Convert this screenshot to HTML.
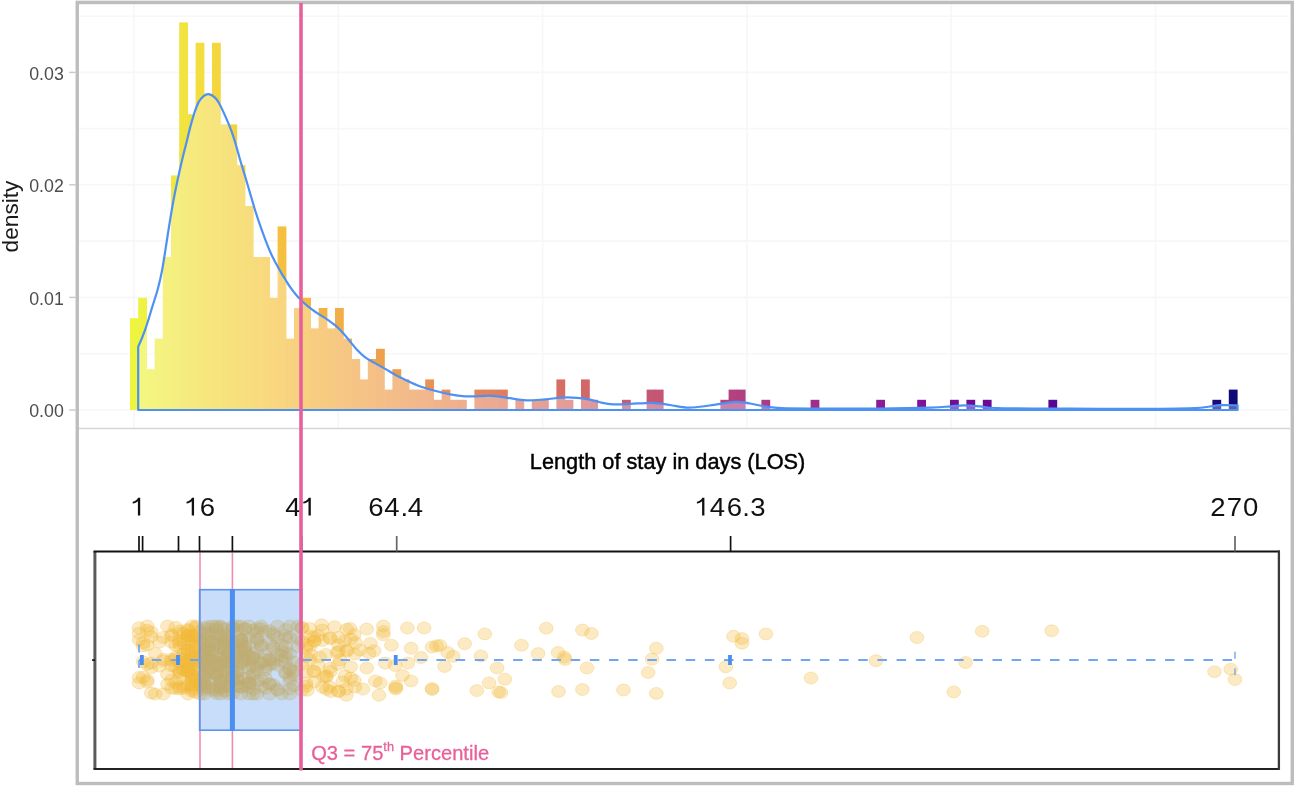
<!DOCTYPE html>
<html><head><meta charset="utf-8"><style>
html,body{margin:0;padding:0;background:#fff;}
svg{display:block;font-family:"Liberation Sans",sans-serif;will-change:transform;}
</style></head><body>
<svg width="1295" height="786" viewBox="0 0 1295 786">
<rect x="0" y="0" width="1295" height="786" fill="#ffffff"/>
<line x1="79" y1="16.2" x2="1289" y2="16.2" stroke="#f7f7f7" stroke-width="1.6"/>
<line x1="79" y1="72.4" x2="1289" y2="72.4" stroke="#f7f7f7" stroke-width="1.6"/>
<line x1="79" y1="128.6" x2="1289" y2="128.6" stroke="#f7f7f7" stroke-width="1.6"/>
<line x1="79" y1="184.8" x2="1289" y2="184.8" stroke="#f7f7f7" stroke-width="1.6"/>
<line x1="79" y1="241.1" x2="1289" y2="241.1" stroke="#f7f7f7" stroke-width="1.6"/>
<line x1="79" y1="297.4" x2="1289" y2="297.4" stroke="#f7f7f7" stroke-width="1.6"/>
<line x1="79" y1="353.7" x2="1289" y2="353.7" stroke="#f7f7f7" stroke-width="1.6"/>
<line x1="79" y1="410.0" x2="1289" y2="410.0" stroke="#f7f7f7" stroke-width="1.6"/>
<line x1="134.0" y1="4" x2="134.0" y2="428" stroke="#f7f7f7" stroke-width="1.6"/>
<line x1="338.3" y1="4" x2="338.3" y2="428" stroke="#f7f7f7" stroke-width="1.6"/>
<line x1="542.6" y1="4" x2="542.6" y2="428" stroke="#f7f7f7" stroke-width="1.6"/>
<line x1="746.9" y1="4" x2="746.9" y2="428" stroke="#f7f7f7" stroke-width="1.6"/>
<line x1="951.2" y1="4" x2="951.2" y2="428" stroke="#f7f7f7" stroke-width="1.6"/>
<line x1="1155.5" y1="4" x2="1155.5" y2="428" stroke="#f7f7f7" stroke-width="1.6"/>
<line x1="79" y1="428.5" x2="1290" y2="428.5" stroke="#d6d6d6" stroke-width="1.3"/>
<rect x="130.00" y="318.20" width="8.80" height="91.80" fill="#edf53e"/>
<rect x="138.20" y="297.80" width="8.80" height="112.20" fill="#edf340"/>
<rect x="146.40" y="369.20" width="8.80" height="40.80" fill="#eef042"/>
<rect x="154.60" y="338.60" width="8.80" height="71.40" fill="#efed42"/>
<rect x="162.80" y="257.00" width="8.80" height="153.00" fill="#f0ea42"/>
<rect x="171.00" y="175.40" width="8.80" height="234.60" fill="#f1e741"/>
<rect x="179.20" y="22.40" width="8.80" height="387.60" fill="#f1e340"/>
<rect x="187.40" y="114.20" width="8.80" height="295.80" fill="#f2e03f"/>
<rect x="195.60" y="42.80" width="8.80" height="367.20" fill="#f3dd3f"/>
<rect x="203.80" y="93.80" width="8.80" height="316.20" fill="#f3da3e"/>
<rect x="212.00" y="42.80" width="8.80" height="367.20" fill="#f4d73e"/>
<rect x="220.20" y="124.40" width="8.80" height="285.60" fill="#f4d53e"/>
<rect x="228.40" y="124.40" width="8.80" height="285.60" fill="#f4d23e"/>
<rect x="236.60" y="165.20" width="8.80" height="244.80" fill="#f4cf3e"/>
<rect x="244.80" y="206.00" width="8.80" height="204.00" fill="#f5cc3e"/>
<rect x="253.00" y="257.00" width="8.80" height="153.00" fill="#f5c93e"/>
<rect x="261.20" y="257.00" width="8.80" height="153.00" fill="#f5c63f"/>
<rect x="269.40" y="297.80" width="8.80" height="112.20" fill="#f5c33f"/>
<rect x="277.60" y="226.40" width="8.80" height="183.60" fill="#f5c040"/>
<rect x="285.80" y="338.60" width="8.80" height="71.40" fill="#f4bd41"/>
<rect x="294.00" y="308.00" width="8.80" height="102.00" fill="#f4bb42"/>
<rect x="302.20" y="297.80" width="8.80" height="112.20" fill="#f4b942"/>
<rect x="310.40" y="328.40" width="8.80" height="81.60" fill="#f4b643"/>
<rect x="318.60" y="308.00" width="8.80" height="102.00" fill="#f3b344"/>
<rect x="326.80" y="328.40" width="8.80" height="81.60" fill="#f3b145"/>
<rect x="335.00" y="308.00" width="8.80" height="102.00" fill="#f2ae46"/>
<rect x="343.20" y="338.60" width="8.80" height="71.40" fill="#f2ab48"/>
<rect x="351.40" y="359.00" width="8.80" height="51.00" fill="#f1a849"/>
<rect x="359.60" y="379.40" width="8.80" height="30.60" fill="#f0a64a"/>
<rect x="367.80" y="359.00" width="8.80" height="51.00" fill="#f0a34b"/>
<rect x="376.00" y="348.80" width="8.80" height="61.20" fill="#efa04c"/>
<rect x="384.20" y="389.60" width="8.80" height="20.40" fill="#ee9e4e"/>
<rect x="392.40" y="369.20" width="8.80" height="40.80" fill="#ee9c4e"/>
<rect x="400.60" y="379.40" width="8.80" height="30.60" fill="#ed9a4f"/>
<rect x="408.80" y="389.60" width="8.80" height="20.40" fill="#ec9751"/>
<rect x="417.00" y="389.60" width="8.80" height="20.40" fill="#eb9552"/>
<rect x="425.20" y="379.40" width="8.80" height="30.60" fill="#ea9253"/>
<rect x="433.40" y="399.80" width="8.80" height="10.20" fill="#e98f54"/>
<rect x="441.60" y="389.60" width="8.80" height="20.40" fill="#e88d55"/>
<rect x="449.80" y="399.80" width="8.80" height="10.20" fill="#e78b57"/>
<rect x="458.00" y="399.80" width="8.80" height="10.20" fill="#e68858"/>
<rect x="474.40" y="389.60" width="8.80" height="20.40" fill="#e4845a"/>
<rect x="482.60" y="389.60" width="8.80" height="20.40" fill="#e3825b"/>
<rect x="490.80" y="389.60" width="8.80" height="20.40" fill="#e1805c"/>
<rect x="499.00" y="389.60" width="8.80" height="20.40" fill="#e07d5d"/>
<rect x="515.40" y="399.80" width="8.80" height="10.20" fill="#dd7960"/>
<rect x="531.80" y="399.80" width="8.80" height="10.20" fill="#da7462"/>
<rect x="540.00" y="399.80" width="8.80" height="10.20" fill="#d97263"/>
<rect x="556.40" y="379.40" width="8.80" height="30.60" fill="#d76e65"/>
<rect x="564.60" y="399.80" width="8.80" height="10.20" fill="#d56c66"/>
<rect x="581.00" y="379.40" width="8.80" height="30.60" fill="#d26769"/>
<rect x="589.20" y="399.80" width="8.80" height="10.20" fill="#d0656a"/>
<rect x="622.00" y="399.80" width="8.80" height="10.20" fill="#ca5c6f"/>
<rect x="646.60" y="389.60" width="8.80" height="20.40" fill="#c65772"/>
<rect x="654.80" y="389.60" width="8.80" height="20.40" fill="#c45573"/>
<rect x="720.40" y="399.80" width="8.80" height="10.20" fill="#b5437e"/>
<rect x="728.60" y="389.60" width="8.80" height="20.40" fill="#b4427e"/>
<rect x="736.80" y="389.60" width="8.80" height="20.40" fill="#b24080"/>
<rect x="761.40" y="399.80" width="8.80" height="10.20" fill="#ac3a84"/>
<rect x="810.60" y="399.80" width="8.80" height="10.20" fill="#a02d8b"/>
<rect x="876.20" y="399.80" width="8.80" height="10.20" fill="#8c1c93"/>
<rect x="917.20" y="399.80" width="8.80" height="10.20" fill="#801296"/>
<rect x="950.00" y="399.80" width="8.80" height="10.20" fill="#750c97"/>
<rect x="966.40" y="399.80" width="8.80" height="10.20" fill="#700a97"/>
<rect x="982.80" y="399.80" width="8.80" height="10.20" fill="#6c0997"/>
<rect x="1048.40" y="399.80" width="8.80" height="10.20" fill="#560894"/>
<rect x="1212.40" y="399.80" width="8.80" height="10.20" fill="#19097b"/>
<rect x="1228.80" y="389.60" width="8.80" height="20.40" fill="#0e0a76"/>
<path d="M138.2,410 L138.2,346.8 C139.37,344.27 142.87,336.27 145.20,329.60 C147.53,322.93 150.10,313.97 152.20,307.20 C154.30,300.43 156.17,295.07 157.80,289.00 C159.43,282.93 160.50,278.80 162.00,270.80 C163.50,262.80 165.48,249.28 166.80,241.00 C168.12,232.72 168.80,227.82 169.90,221.10 C171.00,214.38 172.13,207.48 173.40,200.70 C174.67,193.92 176.05,187.18 177.50,180.40 C178.95,173.62 180.55,166.53 182.10,160.00 C183.65,153.47 185.42,146.77 186.80,141.20 C188.18,135.63 189.13,131.32 190.40,126.60 C191.67,121.88 193.05,116.93 194.40,112.90 C195.75,108.87 196.97,105.20 198.50,102.40 C200.03,99.60 201.90,97.47 203.60,96.10 C205.30,94.73 206.80,93.95 208.70,94.20 C210.60,94.45 213.27,96.10 215.00,97.60 C216.73,99.10 217.75,100.90 219.10,103.20 C220.45,105.50 221.75,108.52 223.10,111.40 C224.45,114.28 225.83,117.28 227.20,120.50 C228.57,123.72 229.92,126.87 231.30,130.70 C232.68,134.53 234.05,138.70 235.50,143.50 C236.95,148.30 238.40,154.03 240.00,159.50 C241.60,164.97 243.40,170.62 245.10,176.30 C246.80,181.98 248.50,187.83 250.20,193.60 C251.90,199.37 253.60,205.47 255.30,210.90 C257.00,216.33 258.75,221.47 260.40,226.20 C262.05,230.93 263.53,234.95 265.20,239.30 C266.87,243.65 268.90,248.82 270.40,252.30 C271.90,255.78 272.93,257.73 274.20,260.20 C275.47,262.67 276.73,264.82 278.00,267.10 C279.27,269.38 280.52,271.75 281.80,273.90 C283.08,276.05 284.42,277.97 285.70,280.00 C286.98,282.03 287.88,283.77 289.50,286.10 C291.12,288.43 293.45,291.63 295.40,294.00 C297.35,296.37 299.07,298.20 301.20,300.30 C303.33,302.40 305.40,304.38 308.20,306.60 C311.00,308.82 314.73,311.38 318.00,313.60 C321.27,315.82 324.77,317.80 327.80,319.90 C330.83,322.00 333.63,323.98 336.20,326.20 C338.77,328.42 340.87,330.63 343.20,333.20 C345.53,335.77 347.87,338.80 350.20,341.60 C352.53,344.40 354.63,347.32 357.20,350.00 C359.77,352.68 362.80,355.60 365.60,357.70 C368.40,359.80 370.73,360.73 374.00,362.60 C377.27,364.47 380.87,366.45 385.20,368.90 C389.53,371.35 394.37,374.45 400.00,377.30 C405.63,380.15 412.85,383.67 419.00,386.00 C425.15,388.33 431.73,389.90 436.90,391.30 C442.07,392.70 445.32,393.57 450.00,394.40 C454.68,395.23 460.00,396.00 465.00,396.30 C470.00,396.60 475.50,396.28 480.00,396.20 C484.50,396.12 487.50,395.53 492.00,395.80 C496.50,396.07 501.20,397.05 507.00,397.80 C512.80,398.55 520.42,400.05 526.80,400.30 C533.18,400.55 538.52,399.78 545.30,399.30 C552.08,398.82 560.30,397.40 567.50,397.40 C574.70,397.40 582.93,398.45 588.50,399.30 C594.07,400.15 596.77,401.67 600.90,402.50 C605.03,403.33 608.45,404.05 613.30,404.30 C618.15,404.55 623.55,404.25 630.00,404.00 C636.45,403.75 645.33,402.63 652.00,402.80 C658.67,402.97 663.82,404.20 670.00,405.00 C676.18,405.80 682.43,407.52 689.10,407.60 C695.77,407.68 702.27,406.45 710.00,405.50 C717.73,404.55 728.83,402.23 735.50,401.90 C742.17,401.57 745.37,402.80 750.00,403.50 C754.63,404.20 758.00,405.32 763.30,406.10 C768.60,406.88 772.35,407.78 781.80,408.20 C791.25,408.62 803.63,408.53 820.00,408.60 C836.37,408.67 861.50,408.77 880.00,408.60 C898.50,408.43 919.33,407.97 931.00,407.60 C942.67,407.23 944.50,406.77 950.00,406.40 C955.50,406.03 959.00,405.40 964.00,405.40 C969.00,405.40 974.67,405.97 980.00,406.40 C985.33,406.83 984.33,407.63 996.00,408.00 C1007.67,408.37 1032.67,408.47 1050.00,408.60 C1067.33,408.73 1081.67,408.77 1100.00,408.80 C1118.33,408.83 1144.17,408.90 1160.00,408.80 C1175.83,408.70 1186.67,408.58 1195.00,408.20 C1203.33,407.82 1205.83,407.00 1210.00,406.50 C1214.17,406.00 1215.40,405.40 1220.00,405.20 C1224.60,405.00 1234.67,405.28 1237.60,405.30 L1237.6,410 Z" fill="#ffffff" fill-opacity="0.33" stroke="#4d92f2" stroke-width="2.2" stroke-linejoin="round"/>
<line x1="69.2" y1="72.4" x2="75.5" y2="72.4" stroke="#c8c8c8" stroke-width="1.4"/>
<text x="63.8" y="79.7" font-size="17.8" fill="#4d4d4d" text-anchor="end">0.03</text>
<line x1="69.2" y1="184.8" x2="75.5" y2="184.8" stroke="#c8c8c8" stroke-width="1.4"/>
<text x="63.8" y="192.1" font-size="17.8" fill="#4d4d4d" text-anchor="end">0.02</text>
<line x1="69.2" y1="297.4" x2="75.5" y2="297.4" stroke="#c8c8c8" stroke-width="1.4"/>
<text x="63.8" y="304.7" font-size="17.8" fill="#4d4d4d" text-anchor="end">0.01</text>
<line x1="69.2" y1="410.0" x2="75.5" y2="410.0" stroke="#c8c8c8" stroke-width="1.4"/>
<text x="63.8" y="417.3" font-size="17.8" fill="#4d4d4d" text-anchor="end">0.00</text>
<text transform="translate(18.2,216.5) rotate(-90)" font-size="22.7" fill="#1a1a1a" text-anchor="middle">density</text>
<rect x="77.25" y="2.5" width="1215" height="781" fill="none" stroke="#bdbdbd" stroke-width="3.4"/>
<line x1="75.6" y1="0.4" x2="1294" y2="0.4" stroke="#e6e6e6" stroke-width="0.8"/>
<text x="529.8" y="469.0" font-size="22.6" fill="#000" stroke="#000" stroke-width="0.45" textLength="275.5" lengthAdjust="spacingAndGlyphs">Length of stay in days (LOS)</text>
<g fill="#f3b838" fill-opacity="0.3" stroke="#f3b838" stroke-opacity="0.28" stroke-width="1">
<ellipse cx="139.0" cy="633.3" rx="6.9" ry="6.0"/>
<ellipse cx="143.1" cy="661.8" rx="6.9" ry="6.0"/>
<ellipse cx="139.0" cy="682.9" rx="6.9" ry="6.0"/>
<ellipse cx="143.1" cy="646.0" rx="6.9" ry="6.0"/>
<ellipse cx="139.0" cy="627.8" rx="6.9" ry="6.0"/>
<ellipse cx="143.1" cy="677.2" rx="6.9" ry="6.0"/>
<ellipse cx="139.0" cy="640.1" rx="6.9" ry="6.0"/>
<ellipse cx="143.1" cy="642.6" rx="6.9" ry="6.0"/>
<ellipse cx="139.0" cy="677.4" rx="6.9" ry="6.0"/>
<ellipse cx="147.2" cy="645.0" rx="6.9" ry="6.0"/>
<ellipse cx="151.2" cy="632.0" rx="6.9" ry="6.0"/>
<ellipse cx="147.2" cy="680.0" rx="6.9" ry="6.0"/>
<ellipse cx="151.2" cy="667.8" rx="6.9" ry="6.0"/>
<ellipse cx="147.2" cy="664.5" rx="6.9" ry="6.0"/>
<ellipse cx="151.2" cy="692.9" rx="6.9" ry="6.0"/>
<ellipse cx="147.2" cy="682.0" rx="6.9" ry="6.0"/>
<ellipse cx="151.2" cy="663.0" rx="6.9" ry="6.0"/>
<ellipse cx="147.2" cy="630.3" rx="6.9" ry="6.0"/>
<ellipse cx="151.2" cy="636.8" rx="6.9" ry="6.0"/>
<ellipse cx="147.2" cy="626.0" rx="6.9" ry="6.0"/>
<ellipse cx="155.3" cy="653.4" rx="6.9" ry="6.0"/>
<ellipse cx="159.4" cy="666.2" rx="6.9" ry="6.0"/>
<ellipse cx="155.3" cy="694.0" rx="6.9" ry="6.0"/>
<ellipse cx="159.4" cy="642.1" rx="6.9" ry="6.0"/>
<ellipse cx="163.4" cy="661.0" rx="6.9" ry="6.0"/>
<ellipse cx="167.5" cy="684.3" rx="6.9" ry="6.0"/>
<ellipse cx="163.4" cy="659.2" rx="6.9" ry="6.0"/>
<ellipse cx="167.5" cy="626.0" rx="6.9" ry="6.0"/>
<ellipse cx="163.4" cy="694.0" rx="6.9" ry="6.0"/>
<ellipse cx="167.5" cy="674.3" rx="6.9" ry="6.0"/>
<ellipse cx="163.4" cy="637.4" rx="6.9" ry="6.0"/>
<ellipse cx="171.6" cy="661.2" rx="6.9" ry="6.0"/>
<ellipse cx="175.7" cy="657.2" rx="6.9" ry="6.0"/>
<ellipse cx="171.6" cy="642.2" rx="6.9" ry="6.0"/>
<ellipse cx="175.7" cy="645.4" rx="6.9" ry="6.0"/>
<ellipse cx="171.6" cy="665.7" rx="6.9" ry="6.0"/>
<ellipse cx="175.7" cy="682.3" rx="6.9" ry="6.0"/>
<ellipse cx="171.6" cy="688.3" rx="6.9" ry="6.0"/>
<ellipse cx="175.7" cy="688.6" rx="6.9" ry="6.0"/>
<ellipse cx="171.6" cy="636.1" rx="6.9" ry="6.0"/>
<ellipse cx="175.7" cy="627.3" rx="6.9" ry="6.0"/>
<ellipse cx="171.6" cy="659.4" rx="6.9" ry="6.0"/>
<ellipse cx="175.7" cy="667.0" rx="6.9" ry="6.0"/>
<ellipse cx="171.6" cy="634.6" rx="6.9" ry="6.0"/>
<ellipse cx="175.7" cy="658.9" rx="6.9" ry="6.0"/>
<ellipse cx="171.6" cy="680.0" rx="6.9" ry="6.0"/>
<ellipse cx="179.7" cy="633.2" rx="6.9" ry="6.0"/>
<ellipse cx="183.8" cy="653.3" rx="6.9" ry="6.0"/>
<ellipse cx="179.7" cy="640.8" rx="6.9" ry="6.0"/>
<ellipse cx="183.8" cy="653.9" rx="6.9" ry="6.0"/>
<ellipse cx="179.7" cy="672.8" rx="6.9" ry="6.0"/>
<ellipse cx="183.8" cy="685.4" rx="6.9" ry="6.0"/>
<ellipse cx="179.7" cy="661.9" rx="6.9" ry="6.0"/>
<ellipse cx="183.8" cy="669.0" rx="6.9" ry="6.0"/>
<ellipse cx="179.7" cy="669.8" rx="6.9" ry="6.0"/>
<ellipse cx="183.8" cy="659.2" rx="6.9" ry="6.0"/>
<ellipse cx="179.7" cy="630.8" rx="6.9" ry="6.0"/>
<ellipse cx="183.8" cy="688.3" rx="6.9" ry="6.0"/>
<ellipse cx="179.7" cy="687.0" rx="6.9" ry="6.0"/>
<ellipse cx="183.8" cy="670.2" rx="6.9" ry="6.0"/>
<ellipse cx="179.7" cy="678.6" rx="6.9" ry="6.0"/>
<ellipse cx="183.8" cy="643.7" rx="6.9" ry="6.0"/>
<ellipse cx="179.7" cy="643.6" rx="6.9" ry="6.0"/>
<ellipse cx="183.8" cy="659.4" rx="6.9" ry="6.0"/>
<ellipse cx="179.7" cy="647.1" rx="6.9" ry="6.0"/>
<ellipse cx="183.8" cy="633.3" rx="6.9" ry="6.0"/>
<ellipse cx="179.7" cy="671.3" rx="6.9" ry="6.0"/>
<ellipse cx="183.8" cy="640.7" rx="6.9" ry="6.0"/>
<ellipse cx="179.7" cy="689.0" rx="6.9" ry="6.0"/>
<ellipse cx="187.9" cy="661.7" rx="6.9" ry="6.0"/>
<ellipse cx="192.0" cy="678.7" rx="6.9" ry="6.0"/>
<ellipse cx="187.9" cy="650.0" rx="6.9" ry="6.0"/>
<ellipse cx="192.0" cy="655.4" rx="6.9" ry="6.0"/>
<ellipse cx="187.9" cy="639.9" rx="6.9" ry="6.0"/>
<ellipse cx="192.0" cy="636.9" rx="6.9" ry="6.0"/>
<ellipse cx="187.9" cy="671.6" rx="6.9" ry="6.0"/>
<ellipse cx="192.0" cy="675.1" rx="6.9" ry="6.0"/>
<ellipse cx="187.9" cy="685.8" rx="6.9" ry="6.0"/>
<ellipse cx="192.0" cy="651.5" rx="6.9" ry="6.0"/>
<ellipse cx="187.9" cy="653.9" rx="6.9" ry="6.0"/>
<ellipse cx="192.0" cy="680.3" rx="6.9" ry="6.0"/>
<ellipse cx="187.9" cy="660.6" rx="6.9" ry="6.0"/>
<ellipse cx="192.0" cy="642.0" rx="6.9" ry="6.0"/>
<ellipse cx="187.9" cy="669.4" rx="6.9" ry="6.0"/>
<ellipse cx="192.0" cy="662.1" rx="6.9" ry="6.0"/>
<ellipse cx="187.9" cy="635.9" rx="6.9" ry="6.0"/>
<ellipse cx="192.0" cy="626.0" rx="6.9" ry="6.0"/>
<ellipse cx="187.9" cy="667.3" rx="6.9" ry="6.0"/>
<ellipse cx="192.0" cy="674.1" rx="6.9" ry="6.0"/>
<ellipse cx="187.9" cy="663.4" rx="6.9" ry="6.0"/>
<ellipse cx="192.0" cy="644.9" rx="6.9" ry="6.0"/>
<ellipse cx="187.9" cy="635.2" rx="6.9" ry="6.0"/>
<ellipse cx="192.0" cy="634.8" rx="6.9" ry="6.0"/>
<ellipse cx="187.9" cy="650.0" rx="6.9" ry="6.0"/>
<ellipse cx="192.0" cy="675.5" rx="6.9" ry="6.0"/>
<ellipse cx="187.9" cy="630.5" rx="6.9" ry="6.0"/>
<ellipse cx="192.0" cy="685.1" rx="6.9" ry="6.0"/>
<ellipse cx="187.9" cy="629.5" rx="6.9" ry="6.0"/>
<ellipse cx="192.0" cy="650.4" rx="6.9" ry="6.0"/>
<ellipse cx="187.9" cy="664.5" rx="6.9" ry="6.0"/>
<ellipse cx="192.0" cy="678.4" rx="6.9" ry="6.0"/>
<ellipse cx="187.9" cy="635.8" rx="6.9" ry="6.0"/>
<ellipse cx="192.0" cy="687.0" rx="6.9" ry="6.0"/>
<ellipse cx="187.9" cy="694.0" rx="6.9" ry="6.0"/>
<ellipse cx="192.0" cy="689.2" rx="6.9" ry="6.0"/>
<ellipse cx="187.9" cy="671.6" rx="6.9" ry="6.0"/>
<ellipse cx="192.0" cy="691.2" rx="6.9" ry="6.0"/>
<ellipse cx="196.0" cy="680.3" rx="6.9" ry="6.0"/>
<ellipse cx="200.1" cy="683.8" rx="6.9" ry="6.0"/>
<ellipse cx="196.0" cy="638.9" rx="6.9" ry="6.0"/>
<ellipse cx="200.1" cy="683.2" rx="6.9" ry="6.0"/>
<ellipse cx="196.0" cy="661.7" rx="6.9" ry="6.0"/>
<ellipse cx="200.1" cy="653.3" rx="6.9" ry="6.0"/>
<ellipse cx="196.0" cy="646.7" rx="6.9" ry="6.0"/>
<ellipse cx="200.1" cy="694.0" rx="6.9" ry="6.0"/>
<ellipse cx="196.0" cy="659.7" rx="6.9" ry="6.0"/>
<ellipse cx="200.1" cy="666.1" rx="6.9" ry="6.0"/>
<ellipse cx="196.0" cy="638.0" rx="6.9" ry="6.0"/>
<ellipse cx="200.1" cy="661.8" rx="6.9" ry="6.0"/>
<ellipse cx="196.0" cy="692.6" rx="6.9" ry="6.0"/>
<ellipse cx="200.1" cy="631.1" rx="6.9" ry="6.0"/>
<ellipse cx="196.0" cy="626.0" rx="6.9" ry="6.0"/>
<ellipse cx="200.1" cy="640.3" rx="6.9" ry="6.0"/>
<ellipse cx="196.0" cy="635.7" rx="6.9" ry="6.0"/>
<ellipse cx="200.1" cy="672.3" rx="6.9" ry="6.0"/>
<ellipse cx="196.0" cy="670.8" rx="6.9" ry="6.0"/>
<ellipse cx="200.1" cy="663.1" rx="6.9" ry="6.0"/>
<ellipse cx="196.0" cy="657.5" rx="6.9" ry="6.0"/>
<ellipse cx="200.1" cy="673.2" rx="6.9" ry="6.0"/>
<ellipse cx="196.0" cy="677.4" rx="6.9" ry="6.0"/>
<ellipse cx="200.1" cy="641.7" rx="6.9" ry="6.0"/>
<ellipse cx="196.0" cy="684.7" rx="6.9" ry="6.0"/>
<ellipse cx="200.1" cy="657.8" rx="6.9" ry="6.0"/>
<ellipse cx="196.0" cy="650.3" rx="6.9" ry="6.0"/>
<ellipse cx="200.1" cy="687.2" rx="6.9" ry="6.0"/>
<ellipse cx="196.0" cy="627.4" rx="6.9" ry="6.0"/>
<ellipse cx="204.2" cy="660.1" rx="6.9" ry="6.0"/>
<ellipse cx="208.3" cy="671.3" rx="6.9" ry="6.0"/>
<ellipse cx="204.2" cy="633.5" rx="6.9" ry="6.0"/>
<ellipse cx="208.3" cy="672.7" rx="6.9" ry="6.0"/>
<ellipse cx="204.2" cy="675.5" rx="6.9" ry="6.0"/>
<ellipse cx="208.3" cy="632.8" rx="6.9" ry="6.0"/>
<ellipse cx="204.2" cy="681.6" rx="6.9" ry="6.0"/>
<ellipse cx="208.3" cy="629.0" rx="6.9" ry="6.0"/>
<ellipse cx="204.2" cy="682.7" rx="6.9" ry="6.0"/>
<ellipse cx="208.3" cy="663.3" rx="6.9" ry="6.0"/>
<ellipse cx="204.2" cy="686.9" rx="6.9" ry="6.0"/>
<ellipse cx="208.3" cy="687.7" rx="6.9" ry="6.0"/>
<ellipse cx="204.2" cy="627.7" rx="6.9" ry="6.0"/>
<ellipse cx="208.3" cy="668.1" rx="6.9" ry="6.0"/>
<ellipse cx="204.2" cy="651.7" rx="6.9" ry="6.0"/>
<ellipse cx="208.3" cy="667.7" rx="6.9" ry="6.0"/>
<ellipse cx="204.2" cy="650.1" rx="6.9" ry="6.0"/>
<ellipse cx="208.3" cy="646.4" rx="6.9" ry="6.0"/>
<ellipse cx="204.2" cy="689.1" rx="6.9" ry="6.0"/>
<ellipse cx="208.3" cy="635.3" rx="6.9" ry="6.0"/>
<ellipse cx="204.2" cy="685.1" rx="6.9" ry="6.0"/>
<ellipse cx="208.3" cy="657.4" rx="6.9" ry="6.0"/>
<ellipse cx="204.2" cy="683.7" rx="6.9" ry="6.0"/>
<ellipse cx="208.3" cy="648.2" rx="6.9" ry="6.0"/>
<ellipse cx="204.2" cy="661.0" rx="6.9" ry="6.0"/>
<ellipse cx="208.3" cy="670.4" rx="6.9" ry="6.0"/>
<ellipse cx="204.2" cy="640.3" rx="6.9" ry="6.0"/>
<ellipse cx="208.3" cy="660.0" rx="6.9" ry="6.0"/>
<ellipse cx="204.2" cy="647.2" rx="6.9" ry="6.0"/>
<ellipse cx="208.3" cy="641.5" rx="6.9" ry="6.0"/>
<ellipse cx="204.2" cy="694.0" rx="6.9" ry="6.0"/>
<ellipse cx="208.3" cy="626.6" rx="6.9" ry="6.0"/>
<ellipse cx="204.2" cy="651.1" rx="6.9" ry="6.0"/>
<ellipse cx="208.3" cy="649.0" rx="6.9" ry="6.0"/>
<ellipse cx="204.2" cy="677.1" rx="6.9" ry="6.0"/>
<ellipse cx="208.3" cy="640.7" rx="6.9" ry="6.0"/>
<ellipse cx="212.3" cy="660.6" rx="6.9" ry="6.0"/>
<ellipse cx="216.4" cy="690.5" rx="6.9" ry="6.0"/>
<ellipse cx="212.3" cy="626.0" rx="6.9" ry="6.0"/>
<ellipse cx="216.4" cy="638.5" rx="6.9" ry="6.0"/>
<ellipse cx="212.3" cy="666.1" rx="6.9" ry="6.0"/>
<ellipse cx="216.4" cy="675.5" rx="6.9" ry="6.0"/>
<ellipse cx="212.3" cy="662.9" rx="6.9" ry="6.0"/>
<ellipse cx="216.4" cy="654.5" rx="6.9" ry="6.0"/>
<ellipse cx="212.3" cy="649.1" rx="6.9" ry="6.0"/>
<ellipse cx="216.4" cy="673.7" rx="6.9" ry="6.0"/>
<ellipse cx="212.3" cy="690.6" rx="6.9" ry="6.0"/>
<ellipse cx="216.4" cy="662.5" rx="6.9" ry="6.0"/>
<ellipse cx="212.3" cy="688.3" rx="6.9" ry="6.0"/>
<ellipse cx="216.4" cy="626.0" rx="6.9" ry="6.0"/>
<ellipse cx="212.3" cy="679.9" rx="6.9" ry="6.0"/>
<ellipse cx="216.4" cy="686.7" rx="6.9" ry="6.0"/>
<ellipse cx="212.3" cy="660.3" rx="6.9" ry="6.0"/>
<ellipse cx="216.4" cy="666.8" rx="6.9" ry="6.0"/>
<ellipse cx="212.3" cy="641.4" rx="6.9" ry="6.0"/>
<ellipse cx="216.4" cy="674.7" rx="6.9" ry="6.0"/>
<ellipse cx="212.3" cy="654.8" rx="6.9" ry="6.0"/>
<ellipse cx="216.4" cy="673.8" rx="6.9" ry="6.0"/>
<ellipse cx="212.3" cy="633.8" rx="6.9" ry="6.0"/>
<ellipse cx="216.4" cy="630.6" rx="6.9" ry="6.0"/>
<ellipse cx="212.3" cy="650.5" rx="6.9" ry="6.0"/>
<ellipse cx="216.4" cy="693.5" rx="6.9" ry="6.0"/>
<ellipse cx="212.3" cy="642.0" rx="6.9" ry="6.0"/>
<ellipse cx="216.4" cy="627.9" rx="6.9" ry="6.0"/>
<ellipse cx="212.3" cy="651.7" rx="6.9" ry="6.0"/>
<ellipse cx="216.4" cy="644.1" rx="6.9" ry="6.0"/>
<ellipse cx="212.3" cy="672.5" rx="6.9" ry="6.0"/>
<ellipse cx="220.5" cy="685.7" rx="6.9" ry="6.0"/>
<ellipse cx="224.6" cy="650.0" rx="6.9" ry="6.0"/>
<ellipse cx="220.5" cy="642.0" rx="6.9" ry="6.0"/>
<ellipse cx="224.6" cy="640.4" rx="6.9" ry="6.0"/>
<ellipse cx="220.5" cy="663.0" rx="6.9" ry="6.0"/>
<ellipse cx="224.6" cy="670.4" rx="6.9" ry="6.0"/>
<ellipse cx="220.5" cy="658.9" rx="6.9" ry="6.0"/>
<ellipse cx="224.6" cy="661.1" rx="6.9" ry="6.0"/>
<ellipse cx="220.5" cy="647.7" rx="6.9" ry="6.0"/>
<ellipse cx="224.6" cy="671.9" rx="6.9" ry="6.0"/>
<ellipse cx="220.5" cy="682.9" rx="6.9" ry="6.0"/>
<ellipse cx="224.6" cy="669.6" rx="6.9" ry="6.0"/>
<ellipse cx="220.5" cy="665.9" rx="6.9" ry="6.0"/>
<ellipse cx="224.6" cy="676.4" rx="6.9" ry="6.0"/>
<ellipse cx="220.5" cy="688.4" rx="6.9" ry="6.0"/>
<ellipse cx="224.6" cy="683.4" rx="6.9" ry="6.0"/>
<ellipse cx="220.5" cy="687.8" rx="6.9" ry="6.0"/>
<ellipse cx="224.6" cy="690.9" rx="6.9" ry="6.0"/>
<ellipse cx="220.5" cy="672.1" rx="6.9" ry="6.0"/>
<ellipse cx="224.6" cy="649.2" rx="6.9" ry="6.0"/>
<ellipse cx="220.5" cy="694.0" rx="6.9" ry="6.0"/>
<ellipse cx="224.6" cy="647.6" rx="6.9" ry="6.0"/>
<ellipse cx="220.5" cy="626.0" rx="6.9" ry="6.0"/>
<ellipse cx="224.6" cy="657.1" rx="6.9" ry="6.0"/>
<ellipse cx="220.5" cy="636.3" rx="6.9" ry="6.0"/>
<ellipse cx="224.6" cy="644.6" rx="6.9" ry="6.0"/>
<ellipse cx="220.5" cy="679.9" rx="6.9" ry="6.0"/>
<ellipse cx="224.6" cy="641.1" rx="6.9" ry="6.0"/>
<ellipse cx="220.5" cy="680.8" rx="6.9" ry="6.0"/>
<ellipse cx="224.6" cy="662.3" rx="6.9" ry="6.0"/>
<ellipse cx="220.5" cy="627.4" rx="6.9" ry="6.0"/>
<ellipse cx="224.6" cy="658.4" rx="6.9" ry="6.0"/>
<ellipse cx="220.5" cy="635.5" rx="6.9" ry="6.0"/>
<ellipse cx="224.6" cy="628.9" rx="6.9" ry="6.0"/>
<ellipse cx="220.5" cy="662.6" rx="6.9" ry="6.0"/>
<ellipse cx="224.6" cy="635.2" rx="6.9" ry="6.0"/>
<ellipse cx="228.6" cy="685.5" rx="6.9" ry="6.0"/>
<ellipse cx="232.7" cy="646.9" rx="6.9" ry="6.0"/>
<ellipse cx="228.6" cy="652.4" rx="6.9" ry="6.0"/>
<ellipse cx="232.7" cy="693.4" rx="6.9" ry="6.0"/>
<ellipse cx="228.6" cy="638.3" rx="6.9" ry="6.0"/>
<ellipse cx="232.7" cy="671.8" rx="6.9" ry="6.0"/>
<ellipse cx="228.6" cy="667.5" rx="6.9" ry="6.0"/>
<ellipse cx="232.7" cy="661.7" rx="6.9" ry="6.0"/>
<ellipse cx="228.6" cy="660.0" rx="6.9" ry="6.0"/>
<ellipse cx="232.7" cy="628.0" rx="6.9" ry="6.0"/>
<ellipse cx="228.6" cy="694.0" rx="6.9" ry="6.0"/>
<ellipse cx="232.7" cy="679.2" rx="6.9" ry="6.0"/>
<ellipse cx="228.6" cy="633.6" rx="6.9" ry="6.0"/>
<ellipse cx="232.7" cy="677.2" rx="6.9" ry="6.0"/>
<ellipse cx="228.6" cy="637.3" rx="6.9" ry="6.0"/>
<ellipse cx="232.7" cy="667.0" rx="6.9" ry="6.0"/>
<ellipse cx="228.6" cy="654.1" rx="6.9" ry="6.0"/>
<ellipse cx="232.7" cy="656.1" rx="6.9" ry="6.0"/>
<ellipse cx="228.6" cy="678.2" rx="6.9" ry="6.0"/>
<ellipse cx="232.7" cy="626.0" rx="6.9" ry="6.0"/>
<ellipse cx="228.6" cy="686.7" rx="6.9" ry="6.0"/>
<ellipse cx="232.7" cy="643.2" rx="6.9" ry="6.0"/>
<ellipse cx="228.6" cy="686.2" rx="6.9" ry="6.0"/>
<ellipse cx="232.7" cy="641.4" rx="6.9" ry="6.0"/>
<ellipse cx="228.6" cy="661.3" rx="6.9" ry="6.0"/>
<ellipse cx="232.7" cy="629.0" rx="6.9" ry="6.0"/>
<ellipse cx="228.6" cy="651.0" rx="6.9" ry="6.0"/>
<ellipse cx="232.7" cy="680.7" rx="6.9" ry="6.0"/>
<ellipse cx="236.8" cy="680.2" rx="6.9" ry="6.0"/>
<ellipse cx="240.9" cy="657.0" rx="6.9" ry="6.0"/>
<ellipse cx="236.8" cy="658.1" rx="6.9" ry="6.0"/>
<ellipse cx="240.9" cy="638.4" rx="6.9" ry="6.0"/>
<ellipse cx="236.8" cy="652.4" rx="6.9" ry="6.0"/>
<ellipse cx="240.9" cy="663.9" rx="6.9" ry="6.0"/>
<ellipse cx="236.8" cy="661.2" rx="6.9" ry="6.0"/>
<ellipse cx="240.9" cy="648.8" rx="6.9" ry="6.0"/>
<ellipse cx="236.8" cy="671.5" rx="6.9" ry="6.0"/>
<ellipse cx="240.9" cy="650.0" rx="6.9" ry="6.0"/>
<ellipse cx="236.8" cy="670.8" rx="6.9" ry="6.0"/>
<ellipse cx="240.9" cy="644.3" rx="6.9" ry="6.0"/>
<ellipse cx="236.8" cy="685.3" rx="6.9" ry="6.0"/>
<ellipse cx="240.9" cy="640.8" rx="6.9" ry="6.0"/>
<ellipse cx="236.8" cy="651.1" rx="6.9" ry="6.0"/>
<ellipse cx="240.9" cy="640.3" rx="6.9" ry="6.0"/>
<ellipse cx="236.8" cy="626.0" rx="6.9" ry="6.0"/>
<ellipse cx="240.9" cy="687.1" rx="6.9" ry="6.0"/>
<ellipse cx="236.8" cy="630.0" rx="6.9" ry="6.0"/>
<ellipse cx="240.9" cy="639.8" rx="6.9" ry="6.0"/>
<ellipse cx="236.8" cy="677.1" rx="6.9" ry="6.0"/>
<ellipse cx="240.9" cy="687.4" rx="6.9" ry="6.0"/>
<ellipse cx="236.8" cy="679.2" rx="6.9" ry="6.0"/>
<ellipse cx="240.9" cy="626.0" rx="6.9" ry="6.0"/>
<ellipse cx="236.8" cy="672.4" rx="6.9" ry="6.0"/>
<ellipse cx="240.9" cy="694.0" rx="6.9" ry="6.0"/>
<ellipse cx="236.8" cy="686.7" rx="6.9" ry="6.0"/>
<ellipse cx="240.9" cy="662.5" rx="6.9" ry="6.0"/>
<ellipse cx="244.9" cy="661.3" rx="6.9" ry="6.0"/>
<ellipse cx="249.0" cy="660.1" rx="6.9" ry="6.0"/>
<ellipse cx="244.9" cy="646.3" rx="6.9" ry="6.0"/>
<ellipse cx="249.0" cy="683.3" rx="6.9" ry="6.0"/>
<ellipse cx="244.9" cy="628.3" rx="6.9" ry="6.0"/>
<ellipse cx="249.0" cy="626.0" rx="6.9" ry="6.0"/>
<ellipse cx="244.9" cy="678.4" rx="6.9" ry="6.0"/>
<ellipse cx="249.0" cy="655.9" rx="6.9" ry="6.0"/>
<ellipse cx="244.9" cy="637.2" rx="6.9" ry="6.0"/>
<ellipse cx="249.0" cy="682.4" rx="6.9" ry="6.0"/>
<ellipse cx="244.9" cy="685.6" rx="6.9" ry="6.0"/>
<ellipse cx="249.0" cy="687.3" rx="6.9" ry="6.0"/>
<ellipse cx="244.9" cy="659.9" rx="6.9" ry="6.0"/>
<ellipse cx="249.0" cy="665.6" rx="6.9" ry="6.0"/>
<ellipse cx="244.9" cy="647.2" rx="6.9" ry="6.0"/>
<ellipse cx="249.0" cy="677.0" rx="6.9" ry="6.0"/>
<ellipse cx="244.9" cy="651.7" rx="6.9" ry="6.0"/>
<ellipse cx="249.0" cy="683.1" rx="6.9" ry="6.0"/>
<ellipse cx="244.9" cy="649.5" rx="6.9" ry="6.0"/>
<ellipse cx="249.0" cy="638.0" rx="6.9" ry="6.0"/>
<ellipse cx="244.9" cy="649.0" rx="6.9" ry="6.0"/>
<ellipse cx="249.0" cy="694.0" rx="6.9" ry="6.0"/>
<ellipse cx="244.9" cy="629.3" rx="6.9" ry="6.0"/>
<ellipse cx="249.0" cy="668.5" rx="6.9" ry="6.0"/>
<ellipse cx="253.1" cy="658.4" rx="6.9" ry="6.0"/>
<ellipse cx="257.1" cy="639.3" rx="6.9" ry="6.0"/>
<ellipse cx="253.1" cy="665.5" rx="6.9" ry="6.0"/>
<ellipse cx="257.1" cy="669.2" rx="6.9" ry="6.0"/>
<ellipse cx="253.1" cy="653.7" rx="6.9" ry="6.0"/>
<ellipse cx="257.1" cy="666.9" rx="6.9" ry="6.0"/>
<ellipse cx="253.1" cy="673.9" rx="6.9" ry="6.0"/>
<ellipse cx="257.1" cy="651.1" rx="6.9" ry="6.0"/>
<ellipse cx="253.1" cy="657.4" rx="6.9" ry="6.0"/>
<ellipse cx="257.1" cy="638.8" rx="6.9" ry="6.0"/>
<ellipse cx="253.1" cy="689.2" rx="6.9" ry="6.0"/>
<ellipse cx="257.1" cy="694.0" rx="6.9" ry="6.0"/>
<ellipse cx="253.1" cy="630.1" rx="6.9" ry="6.0"/>
<ellipse cx="257.1" cy="641.7" rx="6.9" ry="6.0"/>
<ellipse cx="253.1" cy="675.5" rx="6.9" ry="6.0"/>
<ellipse cx="257.1" cy="680.7" rx="6.9" ry="6.0"/>
<ellipse cx="253.1" cy="694.0" rx="6.9" ry="6.0"/>
<ellipse cx="257.1" cy="628.4" rx="6.9" ry="6.0"/>
<ellipse cx="253.1" cy="657.7" rx="6.9" ry="6.0"/>
<ellipse cx="257.1" cy="632.2" rx="6.9" ry="6.0"/>
<ellipse cx="261.2" cy="679.8" rx="6.9" ry="6.0"/>
<ellipse cx="265.3" cy="669.9" rx="6.9" ry="6.0"/>
<ellipse cx="261.2" cy="646.2" rx="6.9" ry="6.0"/>
<ellipse cx="265.3" cy="659.6" rx="6.9" ry="6.0"/>
<ellipse cx="261.2" cy="628.5" rx="6.9" ry="6.0"/>
<ellipse cx="265.3" cy="667.4" rx="6.9" ry="6.0"/>
<ellipse cx="261.2" cy="626.0" rx="6.9" ry="6.0"/>
<ellipse cx="265.3" cy="688.2" rx="6.9" ry="6.0"/>
<ellipse cx="261.2" cy="644.5" rx="6.9" ry="6.0"/>
<ellipse cx="265.3" cy="631.3" rx="6.9" ry="6.0"/>
<ellipse cx="261.2" cy="662.9" rx="6.9" ry="6.0"/>
<ellipse cx="265.3" cy="654.7" rx="6.9" ry="6.0"/>
<ellipse cx="261.2" cy="662.8" rx="6.9" ry="6.0"/>
<ellipse cx="265.3" cy="678.1" rx="6.9" ry="6.0"/>
<ellipse cx="261.2" cy="686.7" rx="6.9" ry="6.0"/>
<ellipse cx="269.4" cy="643.1" rx="6.9" ry="6.0"/>
<ellipse cx="273.4" cy="684.8" rx="6.9" ry="6.0"/>
<ellipse cx="269.4" cy="683.7" rx="6.9" ry="6.0"/>
<ellipse cx="273.4" cy="663.7" rx="6.9" ry="6.0"/>
<ellipse cx="269.4" cy="664.9" rx="6.9" ry="6.0"/>
<ellipse cx="273.4" cy="635.0" rx="6.9" ry="6.0"/>
<ellipse cx="269.4" cy="630.7" rx="6.9" ry="6.0"/>
<ellipse cx="273.4" cy="646.3" rx="6.9" ry="6.0"/>
<ellipse cx="269.4" cy="659.3" rx="6.9" ry="6.0"/>
<ellipse cx="273.4" cy="633.2" rx="6.9" ry="6.0"/>
<ellipse cx="269.4" cy="660.0" rx="6.9" ry="6.0"/>
<ellipse cx="273.4" cy="660.0" rx="6.9" ry="6.0"/>
<ellipse cx="269.4" cy="684.0" rx="6.9" ry="6.0"/>
<ellipse cx="273.4" cy="648.4" rx="6.9" ry="6.0"/>
<ellipse cx="269.4" cy="694.0" rx="6.9" ry="6.0"/>
<ellipse cx="277.5" cy="637.7" rx="6.9" ry="6.0"/>
<ellipse cx="281.6" cy="650.7" rx="6.9" ry="6.0"/>
<ellipse cx="277.5" cy="654.4" rx="6.9" ry="6.0"/>
<ellipse cx="281.6" cy="660.8" rx="6.9" ry="6.0"/>
<ellipse cx="277.5" cy="665.2" rx="6.9" ry="6.0"/>
<ellipse cx="281.6" cy="694.0" rx="6.9" ry="6.0"/>
<ellipse cx="277.5" cy="690.2" rx="6.9" ry="6.0"/>
<ellipse cx="281.6" cy="656.0" rx="6.9" ry="6.0"/>
<ellipse cx="277.5" cy="626.0" rx="6.9" ry="6.0"/>
<ellipse cx="281.6" cy="645.0" rx="6.9" ry="6.0"/>
<ellipse cx="277.5" cy="689.1" rx="6.9" ry="6.0"/>
<ellipse cx="285.7" cy="646.8" rx="6.9" ry="6.0"/>
<ellipse cx="289.7" cy="637.3" rx="6.9" ry="6.0"/>
<ellipse cx="285.7" cy="662.9" rx="6.9" ry="6.0"/>
<ellipse cx="289.7" cy="626.0" rx="6.9" ry="6.0"/>
<ellipse cx="285.7" cy="672.7" rx="6.9" ry="6.0"/>
<ellipse cx="289.7" cy="653.8" rx="6.9" ry="6.0"/>
<ellipse cx="285.7" cy="652.5" rx="6.9" ry="6.0"/>
<ellipse cx="289.7" cy="677.4" rx="6.9" ry="6.0"/>
<ellipse cx="285.7" cy="657.2" rx="6.9" ry="6.0"/>
<ellipse cx="289.7" cy="669.7" rx="6.9" ry="6.0"/>
<ellipse cx="285.7" cy="629.4" rx="6.9" ry="6.0"/>
<ellipse cx="289.7" cy="681.5" rx="6.9" ry="6.0"/>
<ellipse cx="285.7" cy="638.4" rx="6.9" ry="6.0"/>
<ellipse cx="289.7" cy="668.6" rx="6.9" ry="6.0"/>
<ellipse cx="285.7" cy="635.6" rx="6.9" ry="6.0"/>
<ellipse cx="289.7" cy="694.0" rx="6.9" ry="6.0"/>
<ellipse cx="285.7" cy="673.2" rx="6.9" ry="6.0"/>
<ellipse cx="289.7" cy="688.9" rx="6.9" ry="6.0"/>
<ellipse cx="293.8" cy="671.5" rx="6.9" ry="6.0"/>
<ellipse cx="297.9" cy="626.0" rx="6.9" ry="6.0"/>
<ellipse cx="293.8" cy="685.7" rx="6.9" ry="6.0"/>
<ellipse cx="297.9" cy="646.4" rx="6.9" ry="6.0"/>
<ellipse cx="293.8" cy="662.1" rx="6.9" ry="6.0"/>
<ellipse cx="297.9" cy="638.4" rx="6.9" ry="6.0"/>
<ellipse cx="293.8" cy="675.0" rx="6.9" ry="6.0"/>
<ellipse cx="302.0" cy="664.3" rx="6.9" ry="6.0"/>
<ellipse cx="306.0" cy="686.2" rx="6.9" ry="6.0"/>
<ellipse cx="302.0" cy="627.2" rx="6.9" ry="6.0"/>
<ellipse cx="306.0" cy="648.0" rx="6.9" ry="6.0"/>
<ellipse cx="302.0" cy="641.6" rx="6.9" ry="6.0"/>
<ellipse cx="306.0" cy="671.5" rx="6.9" ry="6.0"/>
<ellipse cx="302.0" cy="690.3" rx="6.9" ry="6.0"/>
<ellipse cx="306.0" cy="656.7" rx="6.9" ry="6.0"/>
<ellipse cx="302.0" cy="628.2" rx="6.9" ry="6.0"/>
<ellipse cx="306.0" cy="683.0" rx="6.9" ry="6.0"/>
<ellipse cx="321.6" cy="624.8" rx="6.9" ry="6.0"/>
<ellipse cx="334.5" cy="626.7" rx="6.9" ry="6.0"/>
<ellipse cx="309.8" cy="628.5" rx="6.9" ry="6.0"/>
<ellipse cx="350.0" cy="628.5" rx="6.9" ry="6.0"/>
<ellipse cx="366.7" cy="629.1" rx="6.9" ry="6.0"/>
<ellipse cx="383.3" cy="626.1" rx="6.9" ry="6.0"/>
<ellipse cx="383.3" cy="631.6" rx="6.9" ry="6.0"/>
<ellipse cx="383.3" cy="634.7" rx="6.9" ry="6.0"/>
<ellipse cx="407.4" cy="627.9" rx="6.9" ry="6.0"/>
<ellipse cx="424.1" cy="627.9" rx="6.9" ry="6.0"/>
<ellipse cx="329.6" cy="637.8" rx="6.9" ry="6.0"/>
<ellipse cx="354.3" cy="634.7" rx="6.9" ry="6.0"/>
<ellipse cx="355.5" cy="642.7" rx="6.9" ry="6.0"/>
<ellipse cx="344.4" cy="640.9" rx="6.9" ry="6.0"/>
<ellipse cx="313.5" cy="637.2" rx="6.9" ry="6.0"/>
<ellipse cx="307.4" cy="644.6" rx="6.9" ry="6.0"/>
<ellipse cx="370.4" cy="643.4" rx="6.9" ry="6.0"/>
<ellipse cx="391.4" cy="645.2" rx="6.9" ry="6.0"/>
<ellipse cx="411.1" cy="648.3" rx="6.9" ry="6.0"/>
<ellipse cx="432.1" cy="647.1" rx="6.9" ry="6.0"/>
<ellipse cx="436.5" cy="645.8" rx="6.9" ry="6.0"/>
<ellipse cx="374.1" cy="650.8" rx="6.9" ry="6.0"/>
<ellipse cx="369.1" cy="653.2" rx="6.9" ry="6.0"/>
<ellipse cx="337.0" cy="652.6" rx="6.9" ry="6.0"/>
<ellipse cx="325.9" cy="654.5" rx="6.9" ry="6.0"/>
<ellipse cx="311.0" cy="654.5" rx="6.9" ry="6.0"/>
<ellipse cx="338.2" cy="664.4" rx="6.9" ry="6.0"/>
<ellipse cx="350.6" cy="666.8" rx="6.9" ry="6.0"/>
<ellipse cx="366.7" cy="668.1" rx="6.9" ry="6.0"/>
<ellipse cx="385.2" cy="663.1" rx="6.9" ry="6.0"/>
<ellipse cx="395.1" cy="665.6" rx="6.9" ry="6.0"/>
<ellipse cx="408.0" cy="663.1" rx="6.9" ry="6.0"/>
<ellipse cx="421.0" cy="657.6" rx="6.9" ry="6.0"/>
<ellipse cx="313.5" cy="671.8" rx="6.9" ry="6.0"/>
<ellipse cx="323.4" cy="676.7" rx="6.9" ry="6.0"/>
<ellipse cx="402.5" cy="675.5" rx="6.9" ry="6.0"/>
<ellipse cx="411.1" cy="681.0" rx="6.9" ry="6.0"/>
<ellipse cx="354.3" cy="680.4" rx="6.9" ry="6.0"/>
<ellipse cx="375.3" cy="681.0" rx="6.9" ry="6.0"/>
<ellipse cx="380.2" cy="682.9" rx="6.9" ry="6.0"/>
<ellipse cx="363.0" cy="689.1" rx="6.9" ry="6.0"/>
<ellipse cx="346.3" cy="689.1" rx="6.9" ry="6.0"/>
<ellipse cx="346.3" cy="695.2" rx="6.9" ry="6.0"/>
<ellipse cx="329.6" cy="686.6" rx="6.9" ry="6.0"/>
<ellipse cx="330.8" cy="691.5" rx="6.9" ry="6.0"/>
<ellipse cx="307.4" cy="690.3" rx="6.9" ry="6.0"/>
<ellipse cx="379.0" cy="695.2" rx="6.9" ry="6.0"/>
<ellipse cx="395.7" cy="687.8" rx="6.9" ry="6.0"/>
<ellipse cx="395.7" cy="689.0" rx="6.9" ry="6.0"/>
<ellipse cx="395.7" cy="686.0" rx="6.9" ry="6.0"/>
<ellipse cx="432.1" cy="688.5" rx="6.9" ry="6.0"/>
<ellipse cx="432.1" cy="689.5" rx="6.9" ry="6.0"/>
<ellipse cx="319.7" cy="657.0" rx="6.9" ry="6.0"/>
<ellipse cx="340.0" cy="660.0" rx="6.9" ry="6.0"/>
<ellipse cx="330.0" cy="668.0" rx="6.9" ry="6.0"/>
<ellipse cx="318.0" cy="665.0" rx="6.9" ry="6.0"/>
<ellipse cx="345.0" cy="676.0" rx="6.9" ry="6.0"/>
<ellipse cx="360.0" cy="650.0" rx="6.9" ry="6.0"/>
<ellipse cx="440.0" cy="645.5" rx="6.9" ry="6.0"/>
<ellipse cx="447.7" cy="652.5" rx="6.9" ry="6.0"/>
<ellipse cx="453.1" cy="656.3" rx="6.9" ry="6.0"/>
<ellipse cx="444.6" cy="666.4" rx="6.9" ry="6.0"/>
<ellipse cx="464.7" cy="643.7" rx="6.9" ry="6.0"/>
<ellipse cx="480.9" cy="655.9" rx="6.9" ry="6.0"/>
<ellipse cx="484.8" cy="633.9" rx="6.9" ry="6.0"/>
<ellipse cx="489.1" cy="682.9" rx="6.9" ry="6.0"/>
<ellipse cx="476.8" cy="690.6" rx="6.9" ry="6.0"/>
<ellipse cx="497.1" cy="667.9" rx="6.9" ry="6.0"/>
<ellipse cx="498.7" cy="691.9" rx="6.9" ry="6.0"/>
<ellipse cx="501.0" cy="692.6" rx="6.9" ry="6.0"/>
<ellipse cx="504.9" cy="679.2" rx="6.9" ry="6.0"/>
<ellipse cx="521.5" cy="645.2" rx="6.9" ry="6.0"/>
<ellipse cx="546.3" cy="628.2" rx="6.9" ry="6.0"/>
<ellipse cx="538.1" cy="653.6" rx="6.9" ry="6.0"/>
<ellipse cx="558.1" cy="652.5" rx="6.9" ry="6.0"/>
<ellipse cx="564.3" cy="657.1" rx="6.9" ry="6.0"/>
<ellipse cx="565.1" cy="659.4" rx="6.9" ry="6.0"/>
<ellipse cx="582.4" cy="630.1" rx="6.9" ry="6.0"/>
<ellipse cx="591.4" cy="633.5" rx="6.9" ry="6.0"/>
<ellipse cx="587.0" cy="667.9" rx="6.9" ry="6.0"/>
<ellipse cx="558.5" cy="691.5" rx="6.9" ry="6.0"/>
<ellipse cx="582.4" cy="689.5" rx="6.9" ry="6.0"/>
<ellipse cx="623.5" cy="690.0" rx="6.9" ry="6.0"/>
<ellipse cx="656.3" cy="648.3" rx="6.9" ry="6.0"/>
<ellipse cx="652.1" cy="659.1" rx="6.9" ry="6.0"/>
<ellipse cx="648.1" cy="672.5" rx="6.9" ry="6.0"/>
<ellipse cx="656.3" cy="693.4" rx="6.9" ry="6.0"/>
<ellipse cx="733.5" cy="636.3" rx="6.9" ry="6.0"/>
<ellipse cx="742.0" cy="638.6" rx="6.9" ry="6.0"/>
<ellipse cx="742.0" cy="643.2" rx="6.9" ry="6.0"/>
<ellipse cx="766.0" cy="633.9" rx="6.9" ry="6.0"/>
<ellipse cx="725.8" cy="666.8" rx="6.9" ry="6.0"/>
<ellipse cx="729.7" cy="683.0" rx="6.9" ry="6.0"/>
<ellipse cx="811.0" cy="678.0" rx="6.9" ry="6.0"/>
<ellipse cx="876.0" cy="660.7" rx="6.9" ry="6.0"/>
<ellipse cx="916.9" cy="637.5" rx="6.9" ry="6.0"/>
<ellipse cx="982.2" cy="631.3" rx="6.9" ry="6.0"/>
<ellipse cx="965.6" cy="662.5" rx="6.9" ry="6.0"/>
<ellipse cx="953.7" cy="691.9" rx="6.9" ry="6.0"/>
<ellipse cx="1051.7" cy="630.8" rx="6.9" ry="6.0"/>
<ellipse cx="1214.5" cy="671.7" rx="6.9" ry="6.0"/>
<ellipse cx="1230.8" cy="669.2" rx="6.9" ry="6.0"/>
<ellipse cx="1235.0" cy="679.5" rx="6.9" ry="6.0"/>
<ellipse cx="314.2" cy="681.8" rx="6.9" ry="6.0"/>
<ellipse cx="314.2" cy="641.1" rx="6.9" ry="6.0"/>
<ellipse cx="310.1" cy="646.1" rx="6.9" ry="6.0"/>
<ellipse cx="310.1" cy="659.7" rx="6.9" ry="6.0"/>
<ellipse cx="314.2" cy="641.2" rx="6.9" ry="6.0"/>
<ellipse cx="314.2" cy="671.2" rx="6.9" ry="6.0"/>
<ellipse cx="310.1" cy="636.0" rx="6.9" ry="6.0"/>
<ellipse cx="322.3" cy="640.5" rx="6.9" ry="6.0"/>
<ellipse cx="318.3" cy="635.6" rx="6.9" ry="6.0"/>
<ellipse cx="322.3" cy="630.1" rx="6.9" ry="6.0"/>
<ellipse cx="322.3" cy="687.1" rx="6.9" ry="6.0"/>
<ellipse cx="326.4" cy="675.8" rx="6.9" ry="6.0"/>
<ellipse cx="326.4" cy="689.3" rx="6.9" ry="6.0"/>
<ellipse cx="330.5" cy="638.6" rx="6.9" ry="6.0"/>
<ellipse cx="326.4" cy="676.7" rx="6.9" ry="6.0"/>
<ellipse cx="330.5" cy="671.2" rx="6.9" ry="6.0"/>
<ellipse cx="338.6" cy="651.4" rx="6.9" ry="6.0"/>
<ellipse cx="338.6" cy="637.5" rx="6.9" ry="6.0"/>
<ellipse cx="338.6" cy="645.0" rx="6.9" ry="6.0"/>
<ellipse cx="338.6" cy="691.0" rx="6.9" ry="6.0"/>
<ellipse cx="338.6" cy="691.6" rx="6.9" ry="6.0"/>
<ellipse cx="346.8" cy="650.3" rx="6.9" ry="6.0"/>
<ellipse cx="342.7" cy="681.9" rx="6.9" ry="6.0"/>
<ellipse cx="346.8" cy="629.3" rx="6.9" ry="6.0"/>
<ellipse cx="346.8" cy="651.3" rx="6.9" ry="6.0"/>
<ellipse cx="350.9" cy="639.1" rx="6.9" ry="6.0"/>
<ellipse cx="354.9" cy="687.0" rx="6.9" ry="6.0"/>
<ellipse cx="354.9" cy="653.9" rx="6.9" ry="6.0"/>
<ellipse cx="350.9" cy="678.1" rx="6.9" ry="6.0"/>
</g>
<line x1="200" y1="552.6" x2="200" y2="769" stroke="#f08cb4" stroke-width="1.6"/>
<line x1="232.4" y1="552.6" x2="232.4" y2="769" stroke="#f08cb4" stroke-width="1.6"/>
<rect x="199.6" y="589.7" width="102" height="140.5" fill="#4a8ff0" fill-opacity="0.3" stroke="#5a95f0" stroke-width="1.6"/>
<line x1="232.4" y1="589" x2="232.4" y2="731" stroke="#4a8ff0" stroke-width="5"/>
<line x1="199.6" y1="660" x2="139" y2="660" stroke="#72a6f2" stroke-width="1.9" stroke-dasharray="9.5 9.675"/>
<line x1="302.2" y1="660" x2="1235" y2="660" stroke="#72a6f2" stroke-width="1.9" stroke-dasharray="9.5 9.675"/>
<line x1="139" y1="644.5" x2="139" y2="670" stroke="#6aa0f0" stroke-width="1.6" stroke-dasharray="8 7.5"/>
<line x1="1235" y1="651.7" x2="1235" y2="676" stroke="#8ab0e8" stroke-width="1.6" stroke-dasharray="7 9.5"/>
<rect x="140.0" y="655" width="3.8" height="10" fill="#4a8ff0"/>
<rect x="176.1" y="655" width="3.8" height="10" fill="#4a8ff0"/>
<rect x="393.8" y="655" width="3.8" height="10" fill="#4a8ff0"/>
<rect x="728.1" y="655" width="3.8" height="10" fill="#4a8ff0"/>
<line x1="94.9" y1="551.5" x2="94.9" y2="769" stroke="#5a5a5a" stroke-width="3"/>
<line x1="93.5" y1="551.5" x2="1280" y2="551.5" stroke="#111" stroke-width="2.1"/>
<line x1="93.5" y1="769" x2="1280" y2="769" stroke="#222" stroke-width="2.1"/>
<line x1="1278.9" y1="550.5" x2="1278.9" y2="770" stroke="#3a3a3a" stroke-width="2.3"/>
<line x1="92" y1="660.1" x2="95" y2="660.1" stroke="#111" stroke-width="1.6"/>
<line x1="139" y1="536" x2="139" y2="551.5" stroke="#111" stroke-width="1.7"/>
<line x1="142.6" y1="536" x2="142.6" y2="551.5" stroke="#111" stroke-width="1.7"/>
<line x1="178.5" y1="536" x2="178.5" y2="551.5" stroke="#111" stroke-width="1.7"/>
<line x1="199.5" y1="536" x2="199.5" y2="551.5" stroke="#111" stroke-width="1.7"/>
<line x1="232.4" y1="536" x2="232.4" y2="551.5" stroke="#111" stroke-width="1.7"/>
<line x1="301.6" y1="536" x2="301.6" y2="551.5" stroke="#111" stroke-width="1.7"/>
<line x1="396.7" y1="536" x2="396.7" y2="551.5" stroke="#666" stroke-width="1.7"/>
<line x1="730.6" y1="536" x2="730.6" y2="551.5" stroke="#111" stroke-width="1.7"/>
<line x1="1235" y1="536" x2="1235" y2="551.5" stroke="#666" stroke-width="1.7"/>
<g fill="#111" font-size="25.5">
<text transform="translate(199.80,515.6) scale(1.08,1)">6</text>
<text transform="translate(285.27,515.6) scale(1.08,1)">4</text>
<text transform="translate(368.20,515.6) scale(1.08,1)">6</text>
<text transform="translate(384.37,515.6) scale(1.08,1)">4</text>
<text transform="translate(400.39,515.6) scale(1.08,1)">.</text>
<text transform="translate(407.87,515.6) scale(1.08,1)">4</text>
<text transform="translate(709.67,515.6) scale(1.08,1)">4</text>
<text transform="translate(726.80,515.6) scale(1.08,1)">6</text>
<text transform="translate(742.19,515.6) scale(1.08,1)">.</text>
<text transform="translate(750.35,515.6) scale(1.08,1)">3</text>
<text transform="translate(1210.32,515.6) scale(1.08,1)">2</text>
<text transform="translate(1226.80,515.6) scale(1.08,1)">7</text>
<text transform="translate(1242.93,515.6) scale(1.08,1)">0</text>
<path d="M140.20,497.8 L140.20,515.6 L137.90,515.6 L137.90,501.3 C136.70,502.5 134.90,503.2 132.70,503.6 L132.70,501.7 C135.30,501.3 137.10,499.8 138.10,497.8 Z"/>
<path d="M194.05,497.8 L194.05,515.6 L191.75,515.6 L191.75,501.3 C190.55,502.5 188.75,503.2 186.55,503.6 L186.55,501.7 C189.15,501.3 190.95,499.8 191.95,497.8 Z"/>
<path d="M310.80,497.8 L310.80,515.6 L308.50,515.6 L308.50,501.3 C307.30,502.5 305.50,503.2 303.30,503.6 L303.30,501.7 C305.90,501.3 307.70,499.8 308.70,497.8 Z"/>
<path d="M704.40,497.8 L704.40,515.6 L702.10,515.6 L702.10,501.3 C700.90,502.5 699.10,503.2 696.90,503.6 L696.90,501.7 C699.50,501.3 701.30,499.8 702.30,497.8 Z"/>
</g>
<line x1="301" y1="3" x2="301" y2="770.4" stroke="#e8609a" stroke-width="3.6"/>
<text x="311.2" y="759.9" font-size="20.4" fill="#e8609a" stroke="#e8609a" stroke-width="0.3" transform="translate(311.2,0) scale(0.987,1) translate(-311.2,0)">Q3 = 75<tspan font-size="13" dy="-8.5">th</tspan><tspan dy="8.5"> Percentile</tspan></text>
</svg>
</body></html>
